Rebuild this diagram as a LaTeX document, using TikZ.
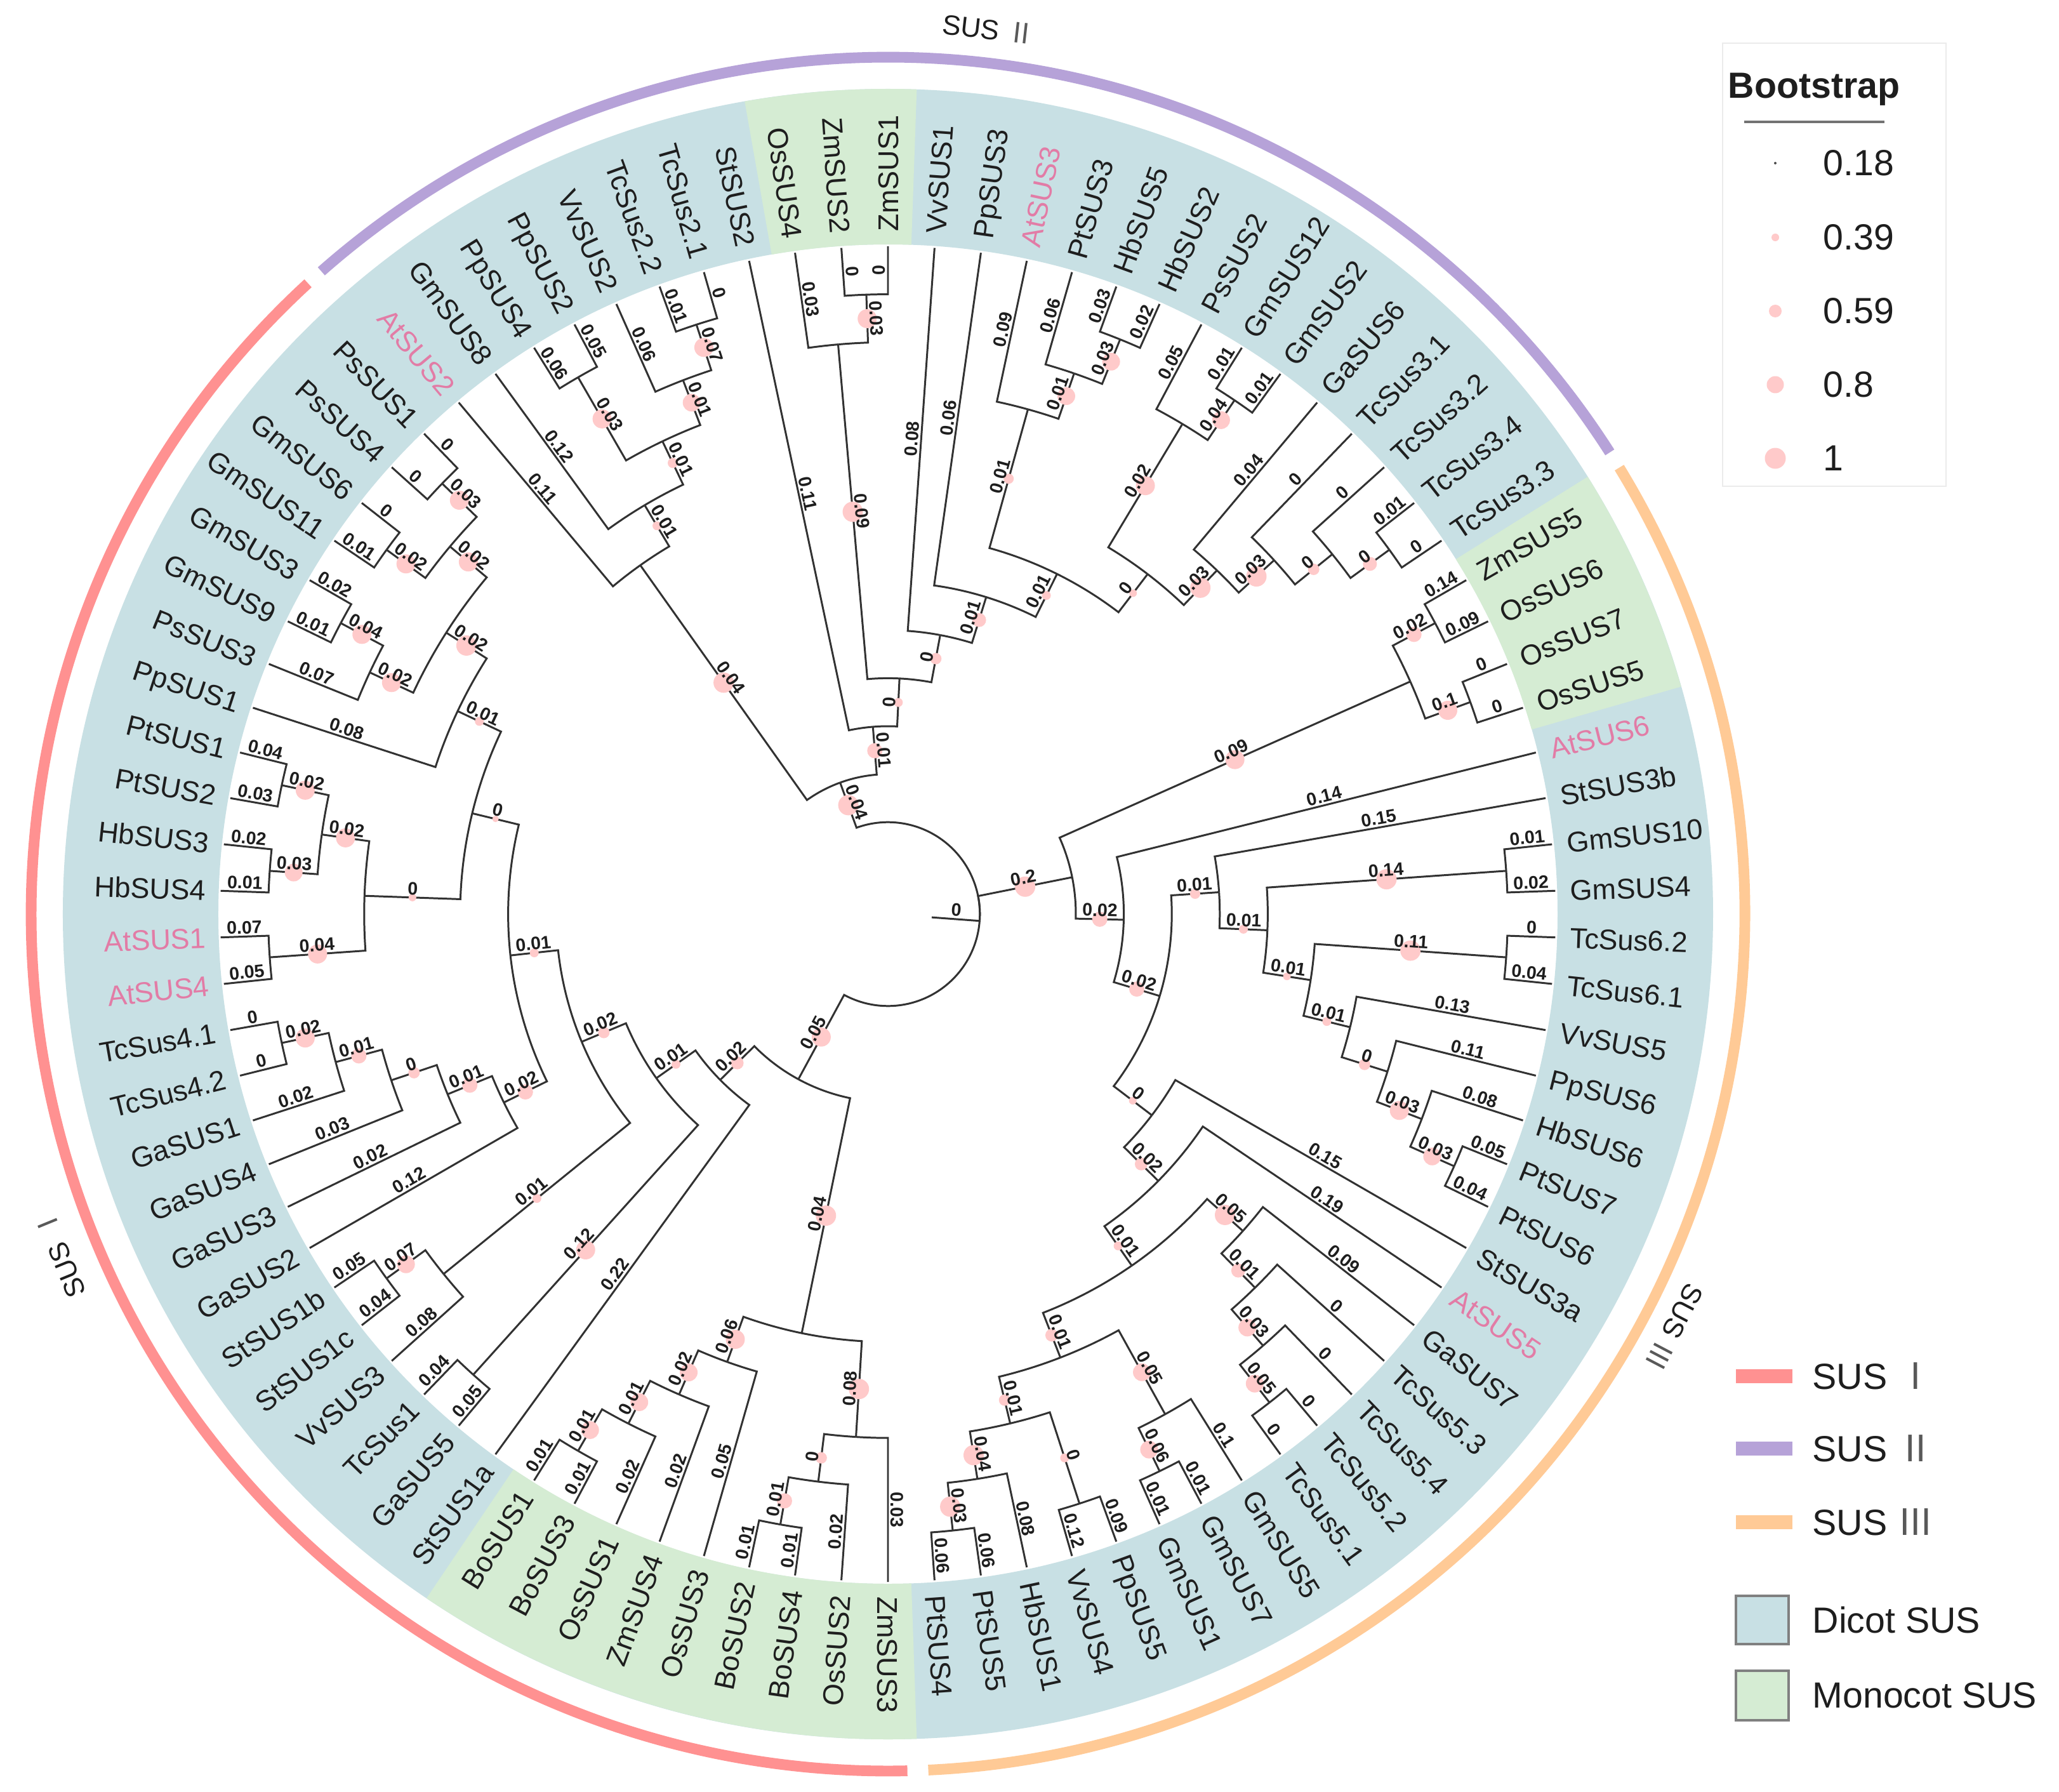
\documentclass[tikz,border=0pt]{standalone}
\usepackage{fontspec}
\setmainfont{Liberation Sans}
\newfontfamily\cjkfont{Noto Sans CJK SC}
\usetikzlibrary{calc}

\definecolor{dicotbg}{RGB}{200,224,228}
\definecolor{monobg}{RGB}{213,236,211}
\definecolor{bootpink}{RGB}{255,202,202}
\definecolor{atpink}{RGB}{226,124,166}
\definecolor{susone}{RGB}{255,145,145}
\definecolor{sustwo}{RGB}{182,162,216}
\definecolor{susthree}{RGB}{255,202,150}
\definecolor{treeline}{RGB}{50,50,50}
\definecolor{labtext}{RGB}{30,30,30}

\tikzset{
  edge/.style={draw=treeline, line width=0.85pt},
  boot/.style={fill=bootpink},
  blen/.style={font=\fontsize{8.1}{9}\selectfont\bfseries, text=labtext, inner sep=1pt, anchor=south},
  leaflab/.style={font=\fontsize{12.8}{14}\selectfont, inner sep=0pt, text height=9.2pt, text depth=0pt},
  clade/.style={line width=4.8pt},
  cladelab/.style={font=\fontsize{12.5}{14}\selectfont, text=labtext},
  legtxt/.style={font=\fontsize{16.3}{18}\selectfont, text=labtext, anchor=west, inner sep=0pt},
}

% tree node: name, angle, height above the tips
\newcommand{\setnode}[3]{%
  \expandafter\edef\csname ang#1\endcsname{#2}%
  \pgfmathsetmacro\tmprad{10.52-0.756*#3}%
  \expandafter\let\csname rad#1\endcsname\tmprad
  \coordinate (#1) at (#2:\tmprad);%
}
\newcommand{\leaf}[4]{%
  \setnode{#1}{#2}{0}%
  \pgfmathtruncatemacro\leafflip{cos(#2)+0.01<0}%
  \ifnum\leafflip=1
    \node[leaflab, text=#4, rotate=#2+180, anchor=east] (t#1) at (#2:10.75) {#3};%
  \else
    \node[leaflab, text=#4, rotate=#2, anchor=west] (t#1) at (#2:10.75) {#3};%
  \fi
}
% parent, child, branch length, bootstrap dot (px)
\newcommand{\branch}[4]{%
  \edef\brAc{\csname ang#2\endcsname}%
  \edef\brAp{\csname ang#1\endcsname}%
  \edef\brRc{\csname rad#2\endcsname}%
  \edef\brRp{\csname rad#1\endcsname}%
  \pgfmathsetmacro\brD{mod((\brAp)-(\brAc)+540,360)-180}%
  \pgfmathsetmacro\brMid{(\brRc+\brRp)/2}%
  \pgfmathtruncatemacro\brFlip{cos(\brAc)+0.01<0}%
  \ifnum\brFlip=1 \pgfmathsetmacro\brRot{\brAc+180}\else\edef\brRot{\brAc}\fi
  \draw[edge] (#2) -- (\brAc:\brRp) arc[start angle=\brAc, delta angle=\brD, radius=\brRp];%
  \ifnum#4>0 \fill[boot] (\brAc:\brMid) circle[radius=#4/100];\fi
  \node[blen, rotate=\brRot] at (\brAc:\brMid) {#3};%
}

\begin{document}
\begin{tikzpicture}
\fill[white] (-13.99,-13.82) rectangle (18.45,14.40);
\useasboundingbox (-13.99,-13.82) rectangle (18.45,14.40);

% shaded ring
\fill[dicotbg, even odd rule] (0,0) circle[radius=13.0] (0,0) circle[radius=10.55];
\fill[monobg] (100:10.55) arc[start angle=100, end angle=88, radius=10.55] -- (88:13.0) arc[start angle=88, end angle=100, radius=13.0] -- cycle;
\fill[monobg] (32:10.55) arc[start angle=32, end angle=16, radius=10.55] -- (16:13.0) arc[start angle=16, end angle=32, radius=13.0] -- cycle;
\fill[monobg] (272:10.55) arc[start angle=272, end angle=236, radius=10.55] -- (236:13.0) arc[start angle=236, end angle=272, radius=13.0] -- cycle;

% clade arcs
\draw[clade, susone] (132.6:13.5) arc[start angle=132.6, end angle=271.3, radius=13.5];
\draw[clade, sustwo] (131.4:13.5) arc[start angle=131.4, end angle=32.6, radius=13.5];
\draw[clade, susthree] (31.4:13.5) arc[start angle=31.4, end angle=-87.3, radius=13.5];
\node[cladelab, rotate=112.3] (labI) at (202.3:14.1) {SUS {\cjkfont\color{black!65}Ⅰ}};
\node[cladelab, rotate=-6.5] (labII) at (83.5:14.03) {SUS {\cjkfont\color{black!65}Ⅱ}};
\node[cladelab, rotate=-117.7] (labIII) at (-27.7:14.0) {SUS {\cjkfont\color{black!65}Ⅲ}};

% leaves
\leaf{l1}{234}{StSUS1a}{labtext}
\leaf{l2}{230}{GaSUS5}{labtext}
\leaf{l3}{226}{TcSus1}{labtext}
\leaf{l4}{222}{VvSUS3}{labtext}
\leaf{l5}{218}{StSUS1c}{labtext}
\leaf{l6}{214}{StSUS1b}{labtext}
\leaf{l7}{210}{GaSUS2}{labtext}
\leaf{l8}{206}{GaSUS3}{labtext}
\leaf{l9}{202}{GaSUS4}{labtext}
\leaf{l10}{198}{GaSUS1}{labtext}
\leaf{l11}{194}{TcSus4.2}{labtext}
\leaf{l12}{190}{TcSus4.1}{labtext}
\leaf{l13}{186}{AtSUS4}{atpink}
\leaf{l14}{182}{AtSUS1}{atpink}
\leaf{l15}{178}{HbSUS4}{labtext}
\leaf{l16}{174}{HbSUS3}{labtext}
\leaf{l17}{170}{PtSUS2}{labtext}
\leaf{l18}{166}{PtSUS1}{labtext}
\leaf{l19}{162}{PpSUS1}{labtext}
\leaf{l20}{158}{PsSUS3}{labtext}
\leaf{l21}{154}{GmSUS9}{labtext}
\leaf{l22}{150}{GmSUS3}{labtext}
\leaf{l23}{146}{GmSUS11}{labtext}
\leaf{l24}{142}{GmSUS6}{labtext}
\leaf{l25}{138}{PsSUS4}{labtext}
\leaf{l26}{134}{PsSUS1}{labtext}
\leaf{l27}{130}{AtSUS2}{atpink}
\leaf{l28}{126}{GmSUS8}{labtext}
\leaf{l29}{122}{PpSUS4}{labtext}
\leaf{l30}{118}{PpSUS2}{labtext}
\leaf{l31}{114}{VvSUS2}{labtext}
\leaf{l32}{110}{TcSus2.2}{labtext}
\leaf{l33}{106}{TcSus2.1}{labtext}
\leaf{l34}{102}{StSUS2}{labtext}
\leaf{l35}{98}{OsSUS4}{labtext}
\leaf{l36}{94}{ZmSUS2}{labtext}
\leaf{l37}{90}{ZmSUS1}{labtext}
\leaf{l38}{86}{VvSUS1}{labtext}
\leaf{l39}{82}{PpSUS3}{labtext}
\leaf{l40}{78}{AtSUS3}{atpink}
\leaf{l41}{74}{PtSUS3}{labtext}
\leaf{l42}{70}{HbSUS5}{labtext}
\leaf{l43}{66}{HbSUS2}{labtext}
\leaf{l44}{62}{PsSUS2}{labtext}
\leaf{l45}{58}{GmSUS12}{labtext}
\leaf{l46}{54}{GmSUS2}{labtext}
\leaf{l47}{50}{GaSUS6}{labtext}
\leaf{l48}{46}{TcSus3.1}{labtext}
\leaf{l49}{42}{TcSus3.2}{labtext}
\leaf{l50}{38}{TcSus3.4}{labtext}
\leaf{l51}{34}{TcSus3.3}{labtext}
\leaf{l52}{30}{ZmSUS5}{labtext}
\leaf{l53}{26}{OsSUS6}{labtext}
\leaf{l54}{22}{OsSUS7}{labtext}
\leaf{l55}{18}{OsSUS5}{labtext}
\leaf{l56}{14}{AtSUS6}{atpink}
\leaf{l57}{10}{StSUS3b}{labtext}
\leaf{l58}{6}{GmSUS10}{labtext}
\leaf{l59}{2}{GmSUS4}{labtext}
\leaf{l60}{-2}{TcSus6.2}{labtext}
\leaf{l61}{-6}{TcSus6.1}{labtext}
\leaf{l62}{-10}{VvSUS5}{labtext}
\leaf{l63}{-14}{PpSUS6}{labtext}
\leaf{l64}{-18}{HbSUS6}{labtext}
\leaf{l65}{-22}{PtSUS7}{labtext}
\leaf{l66}{-26}{PtSUS6}{labtext}
\leaf{l67}{-30}{StSUS3a}{labtext}
\leaf{l68}{-34}{AtSUS5}{atpink}
\leaf{l69}{-38}{GaSUS7}{labtext}
\leaf{l70}{-42}{TcSus5.3}{labtext}
\leaf{l71}{-46}{TcSus5.4}{labtext}
\leaf{l72}{-50}{TcSus5.2}{labtext}
\leaf{l73}{-54}{TcSus5.1}{labtext}
\leaf{l74}{-58}{GmSUS5}{labtext}
\leaf{l75}{-62}{GmSUS7}{labtext}
\leaf{l76}{-66}{GmSUS1}{labtext}
\leaf{l77}{-70}{PpSUS5}{labtext}
\leaf{l78}{-74}{VvSUS4}{labtext}
\leaf{l79}{-78}{HbSUS1}{labtext}
\leaf{l80}{-82}{PtSUS5}{labtext}
\leaf{l81}{-86}{PtSUS4}{labtext}
\leaf{l82}{270}{ZmSUS3}{labtext}
\leaf{l83}{266}{OsSUS2}{labtext}
\leaf{l84}{262}{BoSUS4}{labtext}
\leaf{l85}{258}{BoSUS2}{labtext}
\leaf{l86}{254}{OsSUS3}{labtext}
\leaf{l87}{250}{ZmSUS4}{labtext}
\leaf{l88}{246}{OsSUS1}{labtext}
\leaf{l89}{242}{BoSUS3}{labtext}
\leaf{l90}{238}{BoSUS1}{labtext}

% inner nodes
\setnode{nRoot}{-4.25}{12}
\setnode{nA}{109.99}{11}
\setnode{nW}{125.375}{5}
\setnode{nR}{120.75}{4}
\setnode{nV}{115.5}{3}
\setnode{nT1}{120}{1}
\setnode{nU}{111}{2}
\setnode{nT2}{108}{1}
\setnode{nB10}{94.598}{10}
\setnode{nC9}{87.195}{9}
\setnode{nM1}{95}{2}
\setnode{nZm12}{92}{1}
\setnode{nD}{79.39}{8}
\setnode{nE}{72.78}{7}
\setnode{nF}{63.5625}{6}
\setnode{nG}{74.5}{3}
\setnode{nH}{71}{2}
\setnode{nI}{68}{1}
\setnode{nJ}{52.625}{5}
\setnode{nK}{59}{2}
\setnode{nL}{56}{1}
\setnode{nM}{46.25}{4}
\setnode{nN}{42.5}{3}
\setnode{nO}{39}{2}
\setnode{nP}{36}{1}
\setnode{nR10}{11.31}{10}
\setnode{nMo}{24}{2}
\setnode{nMo1}{28}{1}
\setnode{nMo2}{20}{1}
\setnode{nRB}{-1.383}{9}
\setnode{nRD}{-16.766}{8}
\setnode{nRE}{3.78}{7}
\setnode{nRG}{-2.4375}{6}
\setnode{nRH}{4}{1}
\setnode{nRI}{-8.875}{5}
\setnode{nRJ}{-4}{1}
\setnode{nRK}{-13.75}{4}
\setnode{nRL}{-17.5}{3}
\setnode{nRM}{-21}{2}
\setnode{nRN}{-24}{1}
\setnode{nRF}{-37.3125}{7}
\setnode{nRO}{-44.625}{6}
\setnode{nRP}{-55.25}{5}
\setnode{nRQ}{-41.75}{4}
\setnode{nRR}{-45.5}{3}
\setnode{nRS}{-49}{2}
\setnode{nRT}{-52}{1}
\setnode{nRX}{-68.75}{4}
\setnode{nRV}{-61}{2}
\setnode{nRW}{-64}{1}
\setnode{nRY}{-76.5}{3}
\setnode{nRtwo}{-72}{1}
\setnode{nRZ}{-81}{2}
\setnode{nRthree}{-84}{1}
\setnode{nZ}{241.516}{10}
\setnode{nY}{224.656}{9}
\setnode{nPeight}{215.3125}{8}
\setnode{nNtt}{228}{1}
\setnode{nPseven}{202.625}{7}
\setnode{nX}{219}{2}
\setnode{nXp}{216}{1}
\setnode{nPsix}{186.25}{6}
\setnode{nGaB}{206.125}{5}
\setnode{nGaC}{202.25}{4}
\setnode{nGaD}{198.5}{3}
\setnode{nGaA}{195}{2}
\setnode{nTcF}{192}{1}
\setnode{nPfive}{166.375}{5}
\setnode{nHPA}{178}{3}
\setnode{nAt}{184}{1}
\setnode{nHP}{172}{2}
\setnode{nHb}{176}{1}
\setnode{nPt}{168}{1}
\setnode{nPfour}{154.75}{4}
\setnode{nGthree}{147.5}{3}
\setnode{nGtwo}{155}{2}
\setnode{nGmA}{152}{1}
\setnode{nGtwob}{140}{2}
\setnode{nGmB}{144}{1}
\setnode{nPs}{136}{1}
\setnode{nBot}{258.375}{5}
\setnode{nBa}{266.5}{3}
\setnode{nBb}{263}{2}
\setnode{nBc}{260}{1}
\setnode{nBd}{250.25}{4}
\setnode{nBh}{246.5}{3}
\setnode{nBg}{243}{2}
\setnode{nBf}{240}{1}

% root
\coordinate (stub) at (-4.25:0.692);
\draw[edge] (stub) -- (nRoot);
\node[blen, rotate=-4.25] (rootlab) at (-4.25:1.07) {0};
\branch{nRoot}{nA}{0.04}{16}
\branch{nRoot}{nR10}{0.2}{16}
\branch{nRoot}{nZ}{0.05}{15}

% SUS II side
\branch{nA}{nW}{0.04}{16}
\branch{nA}{nB10}{0.01}{12}
\branch{nW}{l27}{0.11}{0}
\branch{nW}{nR}{0.01}{7}
\branch{nR}{l28}{0.12}{0}
\branch{nR}{nV}{0.01}{8}
\branch{nV}{nT1}{0.03}{15}
\branch{nV}{nU}{0.01}{14}
\branch{nT1}{l29}{0.06}{0}
\branch{nT1}{l30}{0.05}{0}
\branch{nU}{l31}{0.06}{0}
\branch{nU}{nT2}{0.07}{15}
\branch{nT2}{l32}{0.01}{0}
\branch{nT2}{l33}{0}{0}
\branch{nB10}{l34}{0.11}{0}
\branch{nB10}{nC9}{0}{7}
\branch{nC9}{nM1}{0.09}{16}
\branch{nC9}{nD}{0}{9}
\branch{nM1}{l35}{0.03}{0}
\branch{nM1}{nZm12}{0.03}{15}
\branch{nZm12}{l36}{0}{0}
\branch{nZm12}{l37}{0}{0}
\branch{nD}{l38}{0.08}{0}
\branch{nD}{nE}{0.01}{11}
\branch{nE}{l39}{0.06}{0}
\branch{nE}{nF}{0.01}{7}
\branch{nF}{nG}{0.01}{8}
\branch{nF}{nJ}{0}{6}
\branch{nG}{l40}{0.09}{0}
\branch{nG}{nH}{0.01}{14}
\branch{nH}{l41}{0.06}{0}
\branch{nH}{nI}{0.03}{14}
\branch{nI}{l42}{0.03}{0}
\branch{nI}{l43}{0.02}{0}
\branch{nJ}{nK}{0.02}{15}
\branch{nJ}{nM}{0.03}{16}
\branch{nK}{l44}{0.05}{0}
\branch{nK}{nL}{0.04}{14}
\branch{nL}{l45}{0.01}{0}
\branch{nL}{l46}{0.01}{0}
\branch{nM}{l47}{0.04}{0}
\branch{nM}{nN}{0.03}{16}
\branch{nN}{l48}{0}{0}
\branch{nN}{nO}{0}{9}
\branch{nO}{l49}{0}{0}
\branch{nO}{nP}{0}{11}
\branch{nP}{l50}{0.01}{0}
\branch{nP}{l51}{0}{0}

% SUS III side
\branch{nR10}{nMo}{0.09}{15}
\branch{nR10}{nRB}{0.02}{12}
\branch{nMo}{nMo1}{0.02}{12}
\branch{nMo}{nMo2}{0.1}{15}
\branch{nMo1}{l52}{0.14}{0}
\branch{nMo1}{l53}{0.09}{0}
\branch{nMo2}{l54}{0}{0}
\branch{nMo2}{l55}{0}{0}
\branch{nRB}{l56}{0.14}{0}
\branch{nRB}{nRD}{0.02}{12}
\branch{nRD}{nRE}{0.01}{8}
\branch{nRD}{nRF}{0}{6}
\branch{nRE}{l57}{0.15}{0}
\branch{nRE}{nRG}{0.01}{7}
\branch{nRG}{nRH}{0.14}{16}
\branch{nRG}{nRI}{0.01}{6}
\branch{nRH}{l58}{0.01}{0}
\branch{nRH}{l59}{0.02}{0}
\branch{nRI}{nRJ}{0.11}{16}
\branch{nRI}{nRK}{0.01}{7}
\branch{nRJ}{l60}{0}{0}
\branch{nRJ}{l61}{0.04}{0}
\branch{nRK}{l62}{0.13}{0}
\branch{nRK}{nRL}{0}{9}
\branch{nRL}{l63}{0.11}{0}
\branch{nRL}{nRM}{0.03}{15}
\branch{nRM}{l64}{0.08}{0}
\branch{nRM}{nRN}{0.03}{14}
\branch{nRN}{l65}{0.05}{0}
\branch{nRN}{l66}{0.04}{0}
\branch{nRF}{l67}{0.15}{0}
\branch{nRF}{nRO}{0.02}{10}
\branch{nRO}{l68}{0.19}{0}
\branch{nRO}{nRP}{0.01}{7}
\branch{nRP}{nRQ}{0.05}{16}
\branch{nRP}{nRX}{0.01}{10}
\branch{nRQ}{l69}{0.09}{0}
\branch{nRQ}{nRR}{0.01}{11}
\branch{nRR}{l70}{0}{0}
\branch{nRR}{nRS}{0.03}{14}
\branch{nRS}{l71}{0}{0}
\branch{nRS}{nRT}{0.05}{14}
\branch{nRT}{l72}{0}{0}
\branch{nRT}{l73}{0}{0}
\branch{nRX}{nRV}{0.05}{14}
\branch{nRX}{nRY}{0.01}{9}
\branch{nRV}{l74}{0.1}{0}
\branch{nRV}{nRW}{0.06}{14}
\branch{nRW}{l75}{0.01}{0}
\branch{nRW}{l76}{0.01}{0}
\branch{nRY}{nRtwo}{0}{7}
\branch{nRY}{nRZ}{0.04}{16}
\branch{nRtwo}{l77}{0.09}{0}
\branch{nRtwo}{l78}{0.12}{0}
\branch{nRZ}{l79}{0.08}{0}
\branch{nRZ}{nRthree}{0.03}{16}
\branch{nRthree}{l80}{0.06}{0}
\branch{nRthree}{l81}{0.06}{0}

% SUS I side
\branch{nZ}{nY}{0.02}{10}
\branch{nZ}{nBot}{0.04}{16}
\branch{nY}{l1}{0.22}{0}
\branch{nY}{nPeight}{0.01}{7}
\branch{nPeight}{nNtt}{0.12}{15}
\branch{nPeight}{nPseven}{0.02}{9}
\branch{nNtt}{l2}{0.05}{0}
\branch{nNtt}{l3}{0.04}{0}
\branch{nPseven}{nX}{0.01}{7}
\branch{nPseven}{nPsix}{0.01}{7}
\branch{nX}{l4}{0.08}{0}
\branch{nX}{nXp}{0.07}{14}
\branch{nXp}{l5}{0.04}{0}
\branch{nXp}{l6}{0.05}{0}
\branch{nPsix}{nGaB}{0.02}{12}
\branch{nPsix}{nPfive}{0}{5}
\branch{nGaB}{l7}{0.12}{0}
\branch{nGaB}{nGaC}{0.01}{12}
\branch{nGaC}{l8}{0.02}{0}
\branch{nGaC}{nGaD}{0}{9}
\branch{nGaD}{l9}{0.03}{0}
\branch{nGaD}{nGaA}{0.01}{12}
\branch{nGaA}{l10}{0.02}{0}
\branch{nGaA}{nTcF}{0.02}{15}
\branch{nTcF}{l11}{0}{0}
\branch{nTcF}{l12}{0}{0}
\branch{nPfive}{nHPA}{0}{6}
\branch{nPfive}{nPfour}{0.01}{7}
\branch{nHPA}{nAt}{0.04}{15}
\branch{nHPA}{nHP}{0.02}{15}
\branch{nAt}{l13}{0.05}{0}
\branch{nAt}{l14}{0.07}{0}
\branch{nHP}{nHb}{0.03}{14}
\branch{nHP}{nPt}{0.02}{15}
\branch{nHb}{l15}{0.01}{0}
\branch{nHb}{l16}{0.02}{0}
\branch{nPt}{l17}{0.03}{0}
\branch{nPt}{l18}{0.04}{0}
\branch{nPfour}{l19}{0.08}{0}
\branch{nPfour}{nGthree}{0.02}{16}
\branch{nGthree}{nGtwo}{0.02}{15}
\branch{nGthree}{nGtwob}{0.02}{15}
\branch{nGtwo}{l20}{0.07}{0}
\branch{nGtwo}{nGmA}{0.04}{15}
\branch{nGmA}{l21}{0.01}{0}
\branch{nGmA}{l22}{0.02}{0}
\branch{nGtwob}{nGmB}{0.02}{15}
\branch{nGtwob}{nPs}{0.03}{15}
\branch{nGmB}{l23}{0.01}{0}
\branch{nGmB}{l24}{0}{0}
\branch{nPs}{l25}{0}{0}
\branch{nPs}{l26}{0}{0}
\branch{nBot}{nBd}{0.06}{15}
\branch{nBot}{nBa}{0.08}{16}
\branch{nBa}{l82}{0.03}{0}
\branch{nBa}{nBb}{0}{9}
\branch{nBb}{l83}{0.02}{0}
\branch{nBb}{nBc}{0.01}{12}
\branch{nBc}{l84}{0.01}{0}
\branch{nBc}{l85}{0.01}{0}
\branch{nBd}{l86}{0.05}{0}
\branch{nBd}{nBh}{0.02}{14}
\branch{nBh}{l87}{0.02}{0}
\branch{nBh}{nBg}{0.01}{14}
\branch{nBg}{l88}{0.02}{0}
\branch{nBg}{nBf}{0.01}{14}
\branch{nBf}{l89}{0.01}{0}
\branch{nBf}{l90}{0.01}{0}

% bootstrap legend
\draw[draw=black!8, line width=0.8pt] (13.15,6.74) rectangle (16.67,13.72);
\node[font=\fontsize{16.3}{18}\selectfont\bfseries, text=labtext] (bstitle) at (14.59,12.99) {Bootstrap};
\draw[black!55, line width=1.2pt] (13.49,12.48) -- (15.70,12.48);
\fill[black!70] (13.98,11.83) circle[radius=0.02];
\fill[boot] (13.98,10.66) circle[radius=0.06];
\fill[boot] (13.98,9.50) circle[radius=0.10];
\fill[boot] (13.98,8.34) circle[radius=0.135];
\fill[boot] (13.98,7.18) circle[radius=0.165];
\node[legtxt] (bsa) at (14.73,11.83) {0.18};
\node[legtxt] (bsb) at (14.73,10.66) {0.39};
\node[legtxt] (bsc) at (14.73,9.50) {0.59};
\node[legtxt] (bsd) at (14.73,8.34) {0.8};
\node[legtxt] (bse) at (14.73,7.18) {1};

% group legend
\draw[susone, line width=6pt] (13.36,-7.28) -- (14.25,-7.28);
\draw[sustwo, line width=6pt] (13.36,-8.42) -- (14.25,-8.42);
\draw[susthree, line width=6pt] (13.36,-9.58) -- (14.25,-9.58);
\node[legtxt] (lgI) at (14.56,-7.28) {SUS {\cjkfont\color{black!65}Ⅰ}};
\node[legtxt] (lgII) at (14.56,-8.42) {SUS {\cjkfont\color{black!65}Ⅱ}};
\node[legtxt] (lgIII) at (14.56,-9.58) {SUS {\cjkfont\color{black!65}Ⅲ}};
\draw[black!50, line width=1.2pt, fill=dicotbg] (13.36,-10.74) rectangle (14.19,-11.50);
\draw[black!50, line width=1.2pt, fill=monobg] (13.36,-11.92) rectangle (14.19,-12.70);
\node[legtxt] (lgdicot) at (14.56,-11.12) {Dicot SUS};
\node[legtxt] (lgmono) at (14.56,-12.31) {Monocot SUS};
\end{tikzpicture}
\end{document}
